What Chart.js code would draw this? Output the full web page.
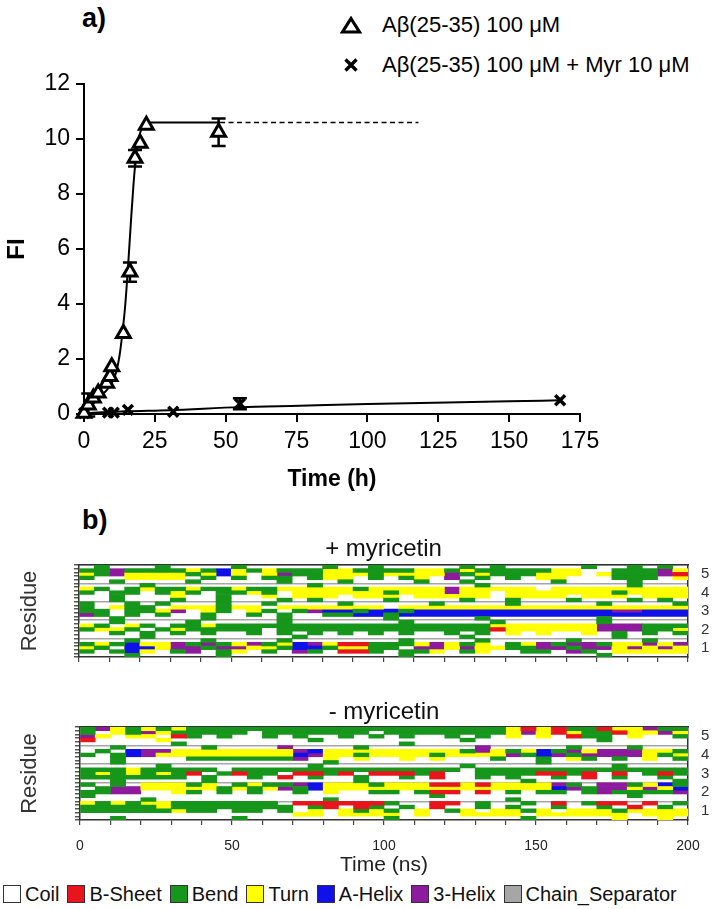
<!DOCTYPE html>
<html>
<head>
<meta charset="utf-8">
<title>Abeta(25-35) aggregation and DSSP</title>
<script src="https://cdn.jsdelivr.net/npm/chart.js@4.4.1/dist/chart.umd.min.js"></script>
<style>
  html, body { margin: 0; padding: 0; background: #fff; }
  body { position: relative; width: 718px; height: 909px; overflow: hidden; font-family: "Liberation Sans", Arial, sans-serif; color: #000; }
  .pane { position: absolute; left: 0; width: 718px; }
  .tag { position: absolute; left: 82px; font-weight: bold; font-size: 27px; line-height: 1; }
  .leg-a { position: absolute; left: 340px; font-size: 22px; line-height: 1; display: flex; align-items: center; white-space: nowrap; }
  .leg-a svg { margin-right: 20px; }
  #dsspLegend { position: absolute; left: 3px; top: 884px; display: flex; align-items: center; font-size: 20px; line-height: 1; color: #111; white-space: nowrap; }
  #dsspLegend .item { display: flex; align-items: center; margin-right: 8px; }
  #dsspLegend .sw { width: 16px; height: 16px; border: 1px solid #333; margin-right: 4px; }
</style>
</head>
<body>
<div class="tag" style="top:5px">a)</div>
<div class="leg-a" style="top:14px">
  <svg width="22" height="18"><polygon points="11,2.5 19.5,16 2.5,16" fill="none" stroke="#000" stroke-width="3.2"/></svg>
  <span id="legA0"></span>
</div>
<div class="leg-a" style="top:54px">
  <svg width="22" height="18"><path d="M5.5 3.5L16.5 14.5M16.5 3.5L5.5 14.5" stroke="#000" stroke-width="3.4"/></svg>
  <span id="legA1"></span>
</div>
<div class="pane" style="top:0;height:500px"><canvas id="kinetics"></canvas></div>

<div class="tag" style="top:507px">b)</div>
<div class="pane" style="top:520px;height:160px"><canvas id="dsspPlus"></canvas></div>
<div class="pane" style="top:680px;height:200px"><canvas id="dsspMinus"></canvas></div>
<div id="dsspLegend"></div>

<script>
// ---- panel a: ThT fluorescence vs time ----
const SERIES_NAMES = ['A\u03b2(25-35) 100 \u03bcM', 'A\u03b2(25-35) 100 \u03bcM + Myr 10 \u03bcM'];

const TRI_T = [0, 1.5, 3.3, 5, 8, 9.2, 9.8, 13.9, 16.2, 18, 19.8, 22, 47.5];
const TRI_Y = [0.03, 0.33, 0.58, 0.76, 1.12, 1.36, 1.72, 2.93, 5.16, 9.3, 9.85, 10.5, 10.25];
const TRI_ERR = [0, 0.42, 0, 0, 0, 0, 0, 0, 0.35, 0.3, 0, 0, 0.5];

const MYR_T = [0, 8.5, 10.5, 15.5, 31.5, 55, 168];
const MYR_Y = [0.03, 0.05, 0.05, 0.15, 0.08, 0.37, 0.5];
const MYR_ERR = [0, 0, 0, 0, 0, 0.2, 0];

// fitted curves
const FIT_T = [0, 3, 6, 9, 11, 12.5, 13.5, 14.5, 15.5, 16.5, 17.5, 18.5, 19.5, 21, 23, 48];
const FIT_Y = [0.05, 0.35, 0.65, 1.0, 1.4, 2.1, 2.9, 3.9, 5.3, 6.9, 8.4, 9.5, 10.1, 10.5, 10.6, 10.6];
const DASH_T = [48, 118];
const DASH_Y = [10.6, 10.6];
const MYR_FIT_T = [0, 15, 30, 55, 76, 100, 150, 168];
const MYR_FIT_Y = [0.03, 0.1, 0.14, 0.25, 0.3, 0.36, 0.46, 0.5];

// ---- panel b: DSSP, 5 chains x 5 sub-rows, one char per 5 ns ----
// . coil  E B-sheet  B bend  T turn  H A-helix  G 3-helix
const BIN_NS = 5;
const CHAIN_IDS = [5, 4, 3, 2, 1];
const SUB_ROWS = ['a', 'b', 'c', 'd', 'e'];

const PLUS_C5 = [
  '.B...B....B.....B..B.....B.B.....B..B.B.',
  'BBGBBBBTBHTBTBBBTTBBBBTTBTBBBBBTT..BBBGT',
  'TBGTTTTBTHT.TGBBTTTBTTTTGBTBBBTTT.TBBBGE',
  'B..TTTT.B.B.BB.BTT.B.BT.G.B.B.TT...BBB.T',
  '..B....B.....B...B....B..B.....B....B...'
];
const PLUS_C4 = [
  '....B..........B..........B.........B...',
  'TB.BTBBTBBTBBTTTTTBTTTTTGTTTTT.TTTTTTTTT',
  'B.BB.BTB.BBTB.TTTTTTBTTTGTT.TTTTTTTBTTTT',
  '..B...T..B..T.TTT.TTT.TTTTT.TTTT.TTT.TTT',
  '..B...B..B...B.B....B....B..B...B...B.B.'
];
const PLUS_C3 = [
  'B..B.B...B..B....B.....B....B.....B....B',
  'B.TBB.TTTBTT.TTTTTTT.TTTTTTTTTTTTTTTTTTT',
  'BB.BBTG.TB.TB.BGHHBHHBHHHHHHHHHHHHHGGHHH',
  'GB.B.B..B..B.B..BBHHBHHHHHHHHHHHHHHHHHHH',
  '..B.....B....B......B.....B.......B.....'
];
const PLUS_C2 = [
  '..B....B.....B.......B.....B......B.....',
  'TB.TB.BBTBBBBBBBBBBBBBBBBBBTTTTTTTGGGBBB',
  'BTTB.BTBBBBB.BBBBBBBBBBBBBBETTTTTTGGGBBT',
  '..B.B.B.B..B.B.B.B.B.B..B.B.T.T..T.B.B.B',
  '....B.........B..........B.........B....'
];
const PLUS_C1 = [
  '...B....B....B.......B....B.....B....B..',
  'BTBHTTGBGBTGBTHGTEEBBBTGTBT.BTGBGGBTTGTG',
  'TB.HHTGGBGGTTBHHBTTBB.GGTGTTBBGGBGGTGTGT',
  'B.BHT.BG.BT.B.GB.EEB.BBT.BT..BB.GB.TTTTT',
  '...B.....B...........B............B.....'
];

const MINUS_C5 = [
  'BGTBTBTBBBBBBBBBBBBBBBBBBBBBTETEBBETTGBB',
  'B.TBGTBBBBB.BBBBBBB.BBBBBBBBTGTETBBETTGT',
  'GT.TT.EB.B..B.B..B.B.B..B.B.T.T.EBB.T..B',
  'E....T.........B.........B........B.....',
  '......B..............B..................'
];
const MINUS_C4 = [
  '..B.....B....G....B.......G.....B...B...',
  '.B.HGGTTTTTTTTGHTTTTTTTTTBGTBTHBGTGGGTTB',
  'B.BHGTTTTTTTTTHGTTBTTTTBTTTTGBHGBGGGGTBT',
  '..B....BBBBBBBG.T.T..T.T...B..B.TB.B.T.B',
  '..B.............B.............B.........'
];
const MINUS_C3 = [
  '.....B.........B.........B.........B....',
  'BBBTBBBBB.BBBBBBBBBBBBBBB.BBBBBBBBBBBBBB',
  'BTBTBTBE.BEBB.EEBE.EEEBE..BBBBEEBE.E.BEB',
  'BBBBBBB.B..B.E.B..B..B.E..B.B..B.E.B..B.',
  '..B.....B.........B..........B.........B'
];
const MINUS_C2 = [
  'B.B.TTTBT.BTBBGHTTTBTTTEETETTTTGB.GGBTHB',
  '.BGGTTTTTBTBTGBHTTTTTTTTTTTTTTTHGBGGTGTH',
  'BBGG..TB.B.B..B.T..BB.BEE.E.B.BB.BGBBBBG',
  'B......................B............B...',
  '....B...........B...........B...........'
];
const MINUS_C1 = [
  'TBTBTTBBBBBBB.EEEEEEB..EE.B..B.E.BEE.E.B',
  'BBBBBTBBBBBBBB.BE.EB.B.E..B.B..B..B.E.B.',
  'BBBBBBTBB.BB.B.T.TBTB.T.BT.TTBT.TTTBTTTT',
  '..............TT.TTTT.T..TTTT.TTTTTT.TTT',
  '..B.......B.........B........B.....T..T.'
];

const STATE_NAMES = ['Coil', 'B-Sheet', 'Bend', 'Turn', 'A-Helix', '3-Helix', 'Chain_Separator'];
const STATE_CODES = ['.', 'E', 'B', 'T', 'H', 'G', '|'];
const STATE_COLORS = ['#ffffff', '#e8161c', '#16961a', '#ffff00', '#1010e8', '#8e1a9e', '#a6a6a6'];

Chart.defaults.font.family = '"Liberation Sans", Arial, sans-serif';
Chart.defaults.color = '#000';

document.getElementById('legA0').textContent = SERIES_NAMES[0];
document.getElementById('legA1').textContent = SERIES_NAMES[1];

function pts(xs, ys) {
  return xs.map((x, i) => ({ x: x, y: ys[i] }));
}

const errorBars = {
  id: 'errorBars',
  beforeDatasetsDraw(chart) {
    const { ctx, scales: { x, y } } = chart;
    ctx.save();
    ctx.strokeStyle = '#000';
    ctx.lineWidth = 2.5;
    chart.data.datasets.forEach(ds => {
      if (!ds.errors) return;
      ds.data.forEach((p, j) => {
        const e = ds.errors[j];
        if (!e) return;
        const px = x.getPixelForValue(p.x);
        const top = y.getPixelForValue(p.y + e);
        const bot = y.getPixelForValue(p.y - e);
        ctx.beginPath();
        ctx.moveTo(px, top); ctx.lineTo(px, bot);
        ctx.moveTo(px - 7, top); ctx.lineTo(px + 7, top);
        ctx.moveTo(px - 7, bot); ctx.lineTo(px + 7, bot);
        ctx.stroke();
      });
    });
    ctx.restore();
  }
};

new Chart(document.getElementById('kinetics'), {
  type: 'scatter',
  data: {
    datasets: [
      { label: 'fit', data: pts(FIT_T, FIT_Y), showLine: true, borderColor: '#000', borderWidth: 2,
        pointRadius: 0, cubicInterpolationMode: 'monotone', clip: false, order: 3 },
      { label: 'fit extension', data: pts(DASH_T, DASH_Y), showLine: true, borderColor: '#000', borderWidth: 1.6,
        borderDash: [5, 3.5], pointRadius: 0, clip: false, order: 3 },
      { label: 'myr fit', data: pts(MYR_FIT_T, MYR_FIT_Y), showLine: true, borderColor: '#000', borderWidth: 2,
        pointRadius: 0, cubicInterpolationMode: 'monotone', clip: false, order: 3 },
      { label: SERIES_NAMES[0], data: pts(TRI_T, TRI_Y), errors: TRI_ERR, pointStyle: 'triangle', pointRadius: 8,
        borderWidth: 3, borderColor: '#000', backgroundColor: '#fff', clip: false, order: 1 },
      { label: SERIES_NAMES[1], data: pts(MYR_T, MYR_Y), errors: MYR_ERR, pointStyle: 'crossRot', pointRadius: 7,
        borderWidth: 3.5, borderColor: '#000', backgroundColor: '#000', clip: false, order: 1 }
    ]
  },
  options: {
    responsive: true,
    maintainAspectRatio: false,
    animation: false,
    layout: { padding: { top: 84, right: 138, bottom: 7, left: 0 } },
    plugins: { legend: { display: false }, tooltip: { enabled: false } },
    scales: {
      x: {
        type: 'linear', min: 0, max: 175,
        ticks: { stepSize: 25, font: { size: 23 }, color: '#000', padding: 6, maxRotation: 0 },
        grid: { drawOnChartArea: false, drawTicks: true, tickLength: 8, color: '#000', lineWidth: 2 },
        border: { color: '#000', width: 2 },
        title: { display: true, text: 'Time (h)', font: { size: 23, weight: 'bold' }, color: '#000', padding: 0 },
        afterFit: s => { s.height = 79; }
      },
      y: {
        type: 'linear', min: 0, max: 12,
        ticks: { stepSize: 2, font: { size: 23 }, color: '#000', padding: 6 },
        grid: { drawOnChartArea: false, drawTicks: true, tickLength: 8, color: '#000', lineWidth: 2 },
        border: { color: '#000', width: 2 },
        title: { display: true, text: 'FI', font: { size: 24, weight: 'bold' }, color: '#000', padding: { top: 3, bottom: 0 } },
        afterFit: s => { s.width = 84; }
      }
    }
  },
  plugins: [errorBars]
});

// ---- panel b ----
function segments(rowIds, rowStr, code) {
  const out = [];
  rowStr.forEach((str, r) => {
    let i = 0;
    while (i < str.length) {
      if (str[i] !== code) { i++; continue; }
      let j = i;
      while (j < str.length && str[j] === code) j++;
      out.push({ x: [i * BIN_NS, j * BIN_NS], y: rowIds[r] });
      i = j;
    }
  });
  return out;
}

function dsspChart(id, chains, cfg) {
  const rowIds = [];
  const rowStr = [];
  CHAIN_IDS.forEach((c, ci) => {
    chains[ci].forEach((s, si) => { rowIds.push(c + SUB_ROWS[si]); rowStr.push(s); });
  });
  const datasets = [];
  STATE_CODES.forEach((code, k) => {
    if (code === '.' || code === '|') return;
    datasets.push({ label: STATE_NAMES[k], data: segments(rowIds, rowStr, code), backgroundColor: STATE_COLORS[k] });
  });

  return new Chart(document.getElementById(id), {
    type: 'bar',
    data: { labels: rowIds, datasets: datasets },
    options: {
      responsive: true,
      maintainAspectRatio: false,
      animation: false,
      indexAxis: 'y',
      datasets: { bar: { grouped: false, barPercentage: 1, categoryPercentage: 1, borderWidth: 0, borderSkipped: false } },
      layout: { padding: 0 },
      plugins: { legend: { display: false }, tooltip: { enabled: false } },
      scales: {
        x: {
          type: 'linear', position: 'bottom', min: 0, max: 200, z: 1,
          ticks: { stepSize: 10, autoSkip: false, maxRotation: 0, font: { size: 14 }, color: '#222', padding: 13,
                   callback: v => (cfg.timeLabels && v % 50 === 0 ? String(v) : '') },
          grid: { drawOnChartArea: false, drawTicks: true, tickLength: 5, color: '#444', lineWidth: 1.2 },
          border: { color: '#333', width: 1.5 },
          title: { display: cfg.timeLabels, text: 'Time (ns)', font: { size: 21 }, color: '#222', padding: { top: 0, bottom: 2 } },
          afterFit: s => { s.height = cfg.bottomH; }
        },
        x2: {
          type: 'linear', axis: 'x', position: 'top', min: 0, max: 200, z: 1,
          ticks: { display: false },
          grid: { drawOnChartArea: false, drawTicks: false },
          border: { display: true, color: '#333', width: 1.5 },
          title: { display: true, text: cfg.title, font: { size: 24 }, color: '#111', padding: { top: cfg.titlePad, bottom: 0 } },
          afterFit: s => { s.height = cfg.topH; }
        },
        y: {
          type: 'category', offset: true, z: 1,
          ticks: { display: false, autoSkip: false },
          grid: { offset: true, drawOnChartArea: true, drawTicks: true, tickLength: 5, lineWidth: 1.5,
                  color: ctx => (ctx.index % SUB_ROWS.length === 0 ? '#a6a6a6' : 'rgba(0,0,0,0)'),
                  tickColor: '#555' },
          border: { color: '#333', width: 1.5 },
          title: { display: true, text: 'Residue', font: { size: 22 }, color: '#333', padding: { top: 17, bottom: 0 } },
          afterFit: s => { s.width = cfg.leftW; }
        },
        y2: {
          type: 'linear', axis: 'y', position: 'right', min: 0.5, max: 5.5, offset: false, z: 1,
          afterBuildTicks: s => { s.ticks = CHAIN_IDS.map(v => ({ value: v })); },
          ticks: { autoSkip: false, font: { size: 15 }, color: '#333', padding: 13, callback: v => String(v) },
          grid: { drawOnChartArea: false, drawTicks: false },
          border: { display: true, color: '#333', width: 1.5 },
          afterFit: s => { s.width = 30; }
        }
      }
    }
  });
}

dsspChart('dsspPlus', [PLUS_C5, PLUS_C4, PLUS_C3, PLUS_C2, PLUS_C1],
  { title: '+ myricetin', titlePad: 15, topH: 45, bottomH: 23, leftW: 79, timeLabels: false });
dsspChart('dsspMinus', [MINUS_C5, MINUS_C4, MINUS_C3, MINUS_C2, MINUS_C1],
  { title: '- myricetin', titlePad: 18, topH: 47, bottomH: 60, leftW: 80, timeLabels: true });

// legend for panel b
const legend = document.getElementById('dsspLegend');
STATE_NAMES.forEach((name, k) => {
  const item = document.createElement('div');
  item.className = 'item';
  const sw = document.createElement('div');
  sw.className = 'sw';
  sw.style.background = STATE_COLORS[k];
  const txt = document.createElement('span');
  txt.textContent = name;
  item.appendChild(sw);
  item.appendChild(txt);
  legend.appendChild(item);
});
</script>
</body>
</html>
